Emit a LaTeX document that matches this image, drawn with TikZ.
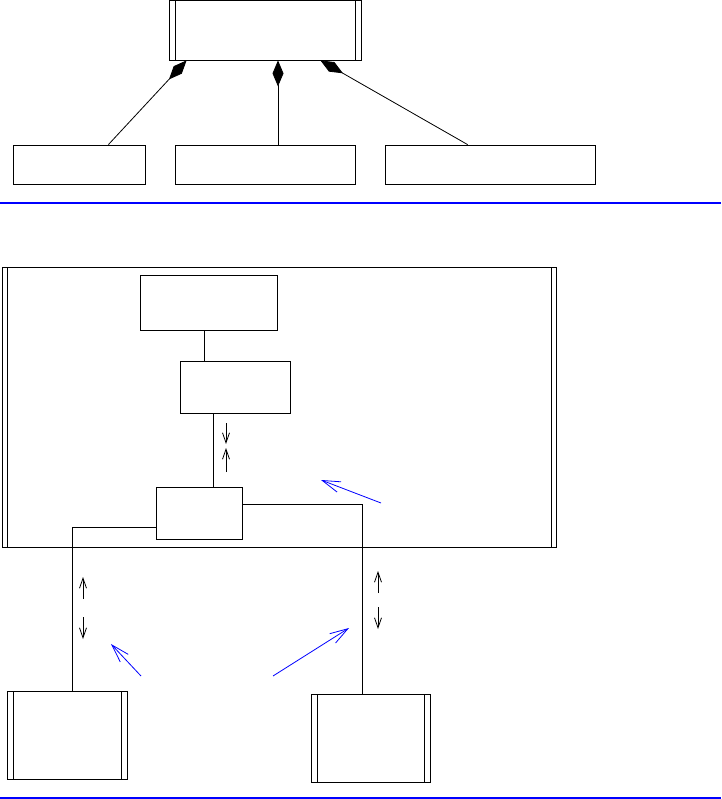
\documentclass[tikz,border=0pt]{standalone}
\usepackage{tikz}
\usetikzlibrary{arrows.meta, positioning, calc}

\begin{document}
\begin{tikzpicture}[
    x=1pt, y=-1pt,
    cls/.style={draw, rectangle, inner sep=0pt, line width=0.8pt},
    activecls/.style={cls, path picture={
        \draw[line width=0.8pt] ([xshift=#1]path picture bounding box.north west) -- ([xshift=#1]path picture bounding box.south west)
              ([xshift=-#1]path picture bounding box.north east) -- ([xshift=-#1]path picture bounding box.south east);}},
    activecls/.default=6pt,
    comp/.style={{Diamond[length=26pt, width=11pt]}-, line width=0.8pt},
    link/.style={line width=0.8pt},
    dirarrow/.style={-{Straight Barb[length=10pt, width=7pt]}, line width=0.8pt},
    notearrow/.style={-{Straight Barb[length=18pt, width=11pt]}, blue, line width=0.8pt},
    sepline/.style={blue, line width=2pt}
]
\useasboundingbox (0,0) rectangle (721,799);

\node[activecls, minimum width=192pt, minimum height=60pt] (ctrl) at (265,30) {};
\node[cls, minimum width=132pt, minimum height=39pt] (p1) at (79,164.5) {};
\node[cls, minimum width=180pt, minimum height=39pt] (p2) at (265,164.5) {};
\node[cls, minimum width=210pt, minimum height=39pt] (p3) at (490,164.5) {};
\draw[comp] ([xshift=18pt]ctrl.south west) -- ([xshift=-37pt]p1.north east);
\draw[comp] ([xshift=13pt]ctrl.south) -- ([xshift=13pt]p2.north);
\draw[comp] ([xshift=-41pt]ctrl.south east) -- ([xshift=83pt]p3.north west);

\coordinate (sepA) at (0,203);
\coordinate (sepB) at (721,203);
\draw[sepline] (sepA) -- (sepB);

\node[activecls=5pt, minimum width=554pt, minimum height=280pt] (frame) at (279,407) {};
\node[cls, minimum width=137pt, minimum height=55pt] (ui) at (208.5,302.5) {};
\node[cls, minimum width=110pt, minimum height=52pt] (logic) at (235,387.5) {};
\node[cls, minimum width=86pt, minimum height=52pt] (port) at (199,513) {};
\node[activecls, minimum width=120pt, minimum height=88pt] (devL) at (67,735) {};
\node[activecls, minimum width=119pt, minimum height=88pt] (devR) at (370.5,738) {};

\draw[link] ([xshift=-4.5pt]ui.south) -- ([xshift=-4.5pt]ui.south |- logic.north);
\draw[link] ([xshift=-22pt]logic.south) -- ([xshift=-22pt]logic.south |- port.north);
\draw[link] ([yshift=9pt]port.east) -| ([xshift=-8.5pt]devR.north);
\draw[link] ([yshift=-14pt]port.west) -| ([xshift=5pt]devL.north);

\draw[dirarrow] (226,423) -- (226,444);
\draw[dirarrow] (226,472) -- (226,448);
\draw[dirarrow] (83,599) -- (83,577);
\draw[dirarrow] (83,617) -- (83,639);
\draw[dirarrow] (378,593) -- (378,571);
\draw[dirarrow] (378,607) -- (378,629);

\draw[notearrow] (381,503) -- (321,480);
\draw[notearrow] (141,676) -- (111,644);
\draw[notearrow] (273,676) -- (349,628);

\coordinate (sepC) at (0,798);
\coordinate (sepD) at (721,798);
\draw[sepline] (sepC) -- (sepD);
\end{tikzpicture}
\end{document}
